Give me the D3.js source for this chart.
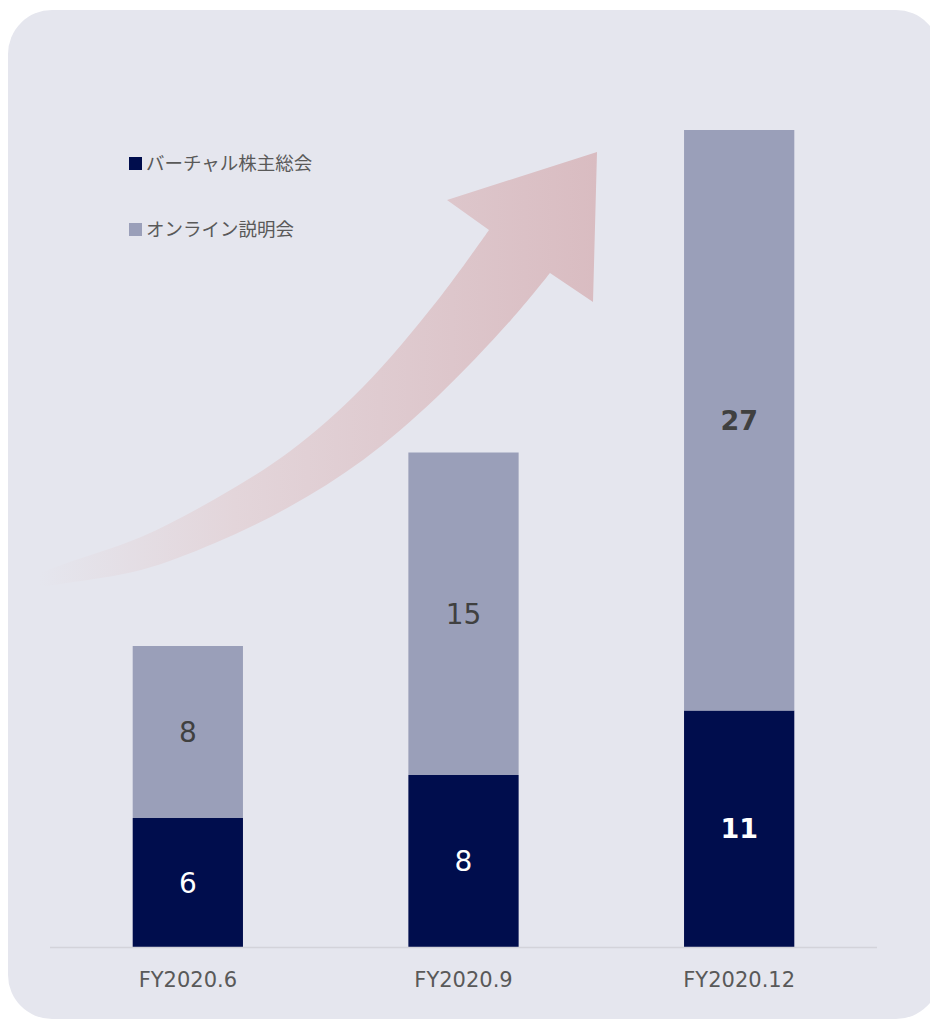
<!DOCTYPE html>
<html>
<head>
<meta charset="utf-8">
<script src="https://cdn.jsdelivr.net/npm/d3@7"></script>
<style>
  html, body { margin: 0; padding: 0; background: #ffffff; }
  svg { display: block; }
</style>
</head>
<body>
<svg id="chart" width="930" height="1020"></svg>
<script>
// Periods on the x axis
const categories = ["FY2020.6", "FY2020.9", "FY2020.12"];
// Virtual shareholder meetings (bottom segment)
const virtualMeetings = [6, 8, 11];
// Online briefings (top segment)
const onlineBriefings = [8, 15, 27];
// Legend entries
const seriesNames = ["バーチャル株主総会", "オンライン説明会"];
const seriesColors = ["#000d4d", "#9a9fb9"];
// Which period gets emphasised labels
const emphasised = ["FY2020.12"];

const svg = d3.select("#chart");

// Card background
svg.append("rect")
  .attr("x", 8).attr("y", 10)
  .attr("width", 932).attr("height", 1009)
  .attr("rx", 44).attr("ry", 44)
  .attr("fill", "#e5e6ee");

// Layout of the plotting area
const plot = { left: 50, right: 877, base: 947 };
const x = d3.scaleBand()
  .domain(categories)
  .range([plot.left, plot.right])
  .paddingInner(0.6)
  .paddingOuter(0.3);
const y = d3.scaleLinear()
  .domain([0, 40])
  .range([plot.base, plot.base - 860]);

// Decorative growth arrow with a fading gradient
const defs = svg.append("defs");
const grad = defs.append("linearGradient")
  .attr("id", "arrowGrad")
  .attr("gradientUnits", "userSpaceOnUse")
  .attr("x1", 40).attr("y1", 0).attr("x2", 597).attr("y2", 0);
grad.append("stop").attr("offset", "0%").attr("stop-color", "#e5e6ee").attr("stop-opacity", 1);
grad.append("stop").attr("offset", "35%").attr("stop-color", "#e3d5da");
grad.append("stop").attr("offset", "100%").attr("stop-color", "#d9bcc1");

const upperEdge = [[37, 574], [67, 563], [141, 537], [215, 499], [289, 452], [363, 387], [437, 301], [489, 230]];
const lowerEdge = [[37, 587], [67, 583], [141, 570], [215, 543], [289, 507], [363, 460], [437, 397], [511, 320], [550, 273]];
const head = [[447, 200], [597, 152], [593, 302]];
const edge = d3.line().curve(d3.curveCatmullRom.alpha(0.5));
const upperPath = edge(upperEdge);
const lowerPath = edge(lowerEdge.slice().reverse()).replace(/^M/, "L");
const headPath = head.map(p => "L" + p[0] + "," + p[1]).join("");
svg.append("path")
  .attr("d", upperPath + headPath + lowerPath + "Z")
  .attr("fill", "url(#arrowGrad)");

// Stacked data
const rows = categories.map((c, i) => ({
  cat: c,
  v: virtualMeetings[i],
  o: onlineBriefings[i]
}));

// Bottom segments
svg.append("g").selectAll("rect")
  .data(rows).join("rect")
  .attr("x", d => x(d.cat))
  .attr("width", x.bandwidth())
  .attr("y", d => y(d.v))
  .attr("height", d => y(0) - y(d.v))
  .attr("fill", seriesColors[0]);

// Top segments
svg.append("g").selectAll("rect")
  .data(rows).join("rect")
  .attr("x", d => x(d.cat))
  .attr("width", x.bandwidth())
  .attr("y", d => y(d.v + d.o))
  .attr("height", d => y(d.v) - y(d.v + d.o))
  .attr("fill", seriesColors[1]);

// Axis baseline
svg.append("line")
  .attr("x1", plot.left).attr("x2", plot.right)
  .attr("y1", plot.base + 0.5).attr("y2", plot.base + 0.5)
  .attr("stroke", "#d3d3da").attr("stroke-width", 1.5);

// Category labels
const xAxis = d3.axisBottom(x).tickSize(0).tickPadding(0);
const axisG = svg.append("g")
  .attr("transform", `translate(0,${plot.base})`)
  .call(xAxis);
axisG.select(".domain").remove();
axisG.selectAll("text")
  .attr("dy", null)
  .attr("y", 40)
  .attr("font-family", "'DejaVu Sans', Verdana, sans-serif")
  .attr("font-size", 21)
  .attr("fill", "#595959");

// Value labels
const labelFont = "'DejaVu Sans', Verdana, sans-serif";
const cx = d => x(d.cat) + x.bandwidth() / 2;
svg.append("g").selectAll("text")
  .data(rows).join("text")
  .attr("x", cx)
  .attr("y", d => (y(0) + y(d.v)) / 2)
  .attr("dy", "0.36em")
  .attr("text-anchor", "middle")
  .attr("font-family", labelFont)
  .attr("font-size", d => emphasised.includes(d.cat) ? 27 : 28)
  .attr("font-weight", d => emphasised.includes(d.cat) ? "bold" : "normal")
  .attr("fill", "#ffffff")
  .text(d => d.v);
svg.append("g").selectAll("text")
  .data(rows).join("text")
  .attr("x", cx)
  .attr("y", d => (y(d.v) + y(d.v + d.o)) / 2)
  .attr("dy", "0.36em")
  .attr("text-anchor", "middle")
  .attr("font-family", labelFont)
  .attr("font-size", d => emphasised.includes(d.cat) ? 27 : 28)
  .attr("font-weight", d => emphasised.includes(d.cat) ? "bold" : "normal")
  .attr("fill", "#404040")
  .text(d => d.o);

// Legend
const legend = svg.append("g").attr("transform", "translate(129,157)");
seriesNames.forEach((name, i) => {
  const g = legend.append("g").attr("transform", `translate(0,${i * 66})`);
  g.append("rect").attr("width", 13).attr("height", 13).attr("fill", seriesColors[i]);
  g.append("text")
    .attr("x", 17).attr("y", 6.5).attr("dy", "0.36em")
    .attr("font-family", "'Noto Sans CJK JP', sans-serif")
    .attr("font-size", 18.5)
    .attr("fill", "#595959")
    .text(name);
});
</script>
</body>
</html>
